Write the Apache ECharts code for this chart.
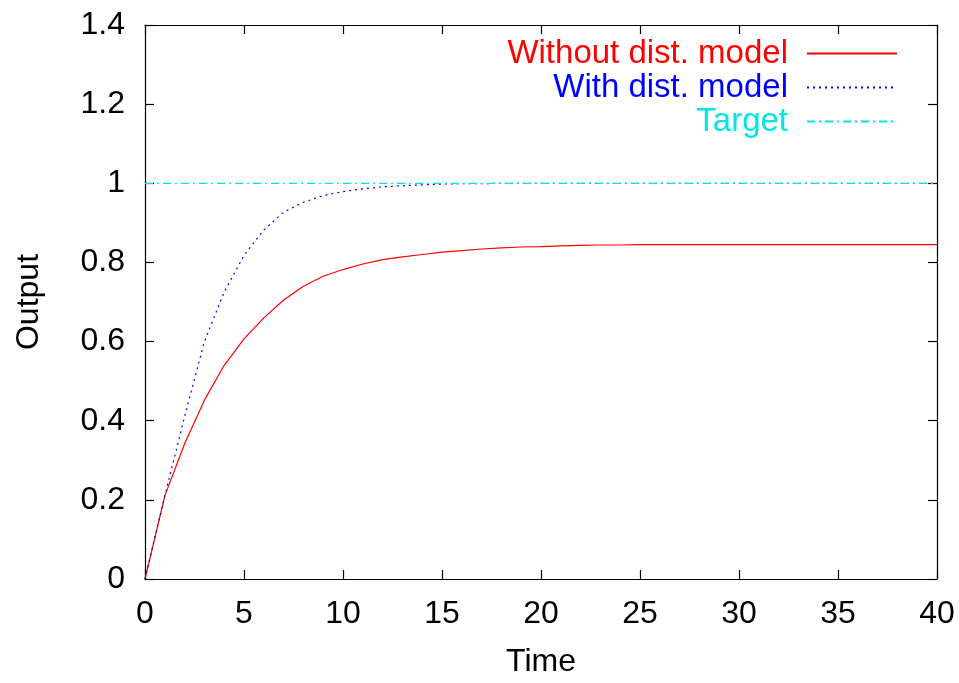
<!DOCTYPE html>
<html>
<head>
<meta charset="utf-8">
<script src="https://cdn.jsdelivr.net/npm/echarts@6/dist/echarts.min.js"></script>
<style>
  html, body { margin: 0; padding: 0; background: #fff; }
  #chart { width: 959px; height: 683px; }
</style>
</head>
<body>
<div id="chart"></div>
<script>
// Step responses sampled once per time unit
const time = [0,1,2,3,4,5,6,7,8,9,10,11,12,13,14,15,16,17,18,19,20,
              21,22,23,24,25,26,27,28,29,30,31,32,33,34,35,36,37,38,39,40];
const withoutDist = [0,0.21,0.342,0.452,0.54,0.607,0.66,0.705,0.74,0.765,0.782,
                     0.796,0.807,0.814,0.820,0.826,0.830,0.834,0.837,0.839,0.840,
                     0.842,0.843,0.844,0.844,0.845,0.845,0.845,0.845,0.845,0.845,
                     0.845,0.845,0.845,0.845,0.845,0.845,0.845,0.845,0.845,0.845];
const withDist = [0,0.21,0.41,0.60,0.725,0.818,0.882,0.927,0.952,0.969,0.979,
                  0.986,0.991,0.994,0.996,0.998,0.999,0.999,1,1,1,
                  1,1,1,1,1,1,1,1,1,1,1,1,1,1,1,1,1,1,1,1];
const target = time.map(() => 1);
const seriesNames = ['Without dist. model', 'With dist. model', 'Target'];
const seriesColors = ['#ff0000', '#0000ff', '#00e5e5'];
const xTicks = [0,5,10,15,20,25,30,35,40];
const yTicks = [0,0.2,0.4,0.6,0.8,1,1.2,1.4];

const FONT = "'Liberation Sans', Arial, sans-serif";
const FS = 32;
const pairs = (ys) => time.map((t, i) => [t, ys[i]]);

const chart = echarts.init(document.getElementById('chart'), null, { renderer: 'canvas' });

const frameAxis = {
  axisLine: { show: true, onZero: false, lineStyle: { color: '#000', width: 1.2 } },
  axisTick: { show: true, inside: true, length: 9, lineStyle: { color: '#000', width: 1.2 } },
  splitLine: { show: false }
};

chart.setOption({
  animation: false,
  backgroundColor: '#fff',
  textStyle: { fontFamily: FONT },
  grid: { left: 145, right: 22, top: 25, bottom: 99, containLabel: false },
  legend: {
    orient: 'vertical',
    right: 56,
    top: 32,
    align: 'right',
    itemWidth: 90,
    itemHeight: 12,
    itemGap: 1,
    itemStyle: { opacity: 0 },
    data: seriesNames.map((n, i) => ({
      name: n,
      textStyle: { color: seriesColors[i], fontSize: 33, fontFamily: FONT, lineHeight: 30, padding: [0, 14, 0, 0] }
    }))
  },
  xAxis: [
    Object.assign({
      type: 'value', min: 0, max: 40, interval: 5, position: 'bottom',
      name: 'Time', nameLocation: 'middle', nameGap: 67,
      nameTextStyle: { fontSize: FS, color: '#000', fontFamily: FONT },
      axisLabel: { fontSize: FS, color: '#000', margin: 19, fontFamily: FONT,
                   formatter: (v) => xTicks.includes(v) ? String(v) : '' }
    }, frameAxis),
    Object.assign({
      type: 'value', min: 0, max: 40, interval: 5, position: 'top',
      axisLabel: { show: false }
    }, frameAxis)
  ],
  yAxis: [
    Object.assign({
      type: 'value', min: 0, max: 1.4, interval: 0.2, position: 'left',
      name: 'Output', nameLocation: 'middle', nameGap: 100, nameRotate: 90,
      nameTextStyle: { fontSize: FS, color: '#000', fontFamily: FONT },
      axisLabel: { fontSize: FS, color: '#000', margin: 20, fontFamily: FONT,
                   formatter: (v) => {
                     const t = yTicks.find((y) => Math.abs(y - v) < 1e-9);
                     return t === undefined ? '' : String(t);
                   } }
    }, frameAxis),
    Object.assign({
      type: 'value', min: 0, max: 1.4, interval: 0.2, position: 'right',
      axisLabel: { show: false }
    }, frameAxis)
  ],
  series: [
    {
      name: seriesNames[0], type: 'line', data: pairs(withoutDist),
      symbol: 'none', color: seriesColors[0],
      lineStyle: { color: seriesColors[0], width: 1.2, type: 'solid' }
    },
    {
      name: seriesNames[1], type: 'line', data: pairs(withDist),
      symbol: 'none', color: seriesColors[1],
      lineStyle: { color: seriesColors[1], width: 1.2, type: [2, 4] }
    },
    {
      name: seriesNames[2], type: 'line', data: pairs(target),
      symbol: 'none', color: seriesColors[2],
      lineStyle: { color: seriesColors[2], width: 1.2, type: [8, 4, 2, 4] }
    }
  ]
});
</script>
</body>
</html>
